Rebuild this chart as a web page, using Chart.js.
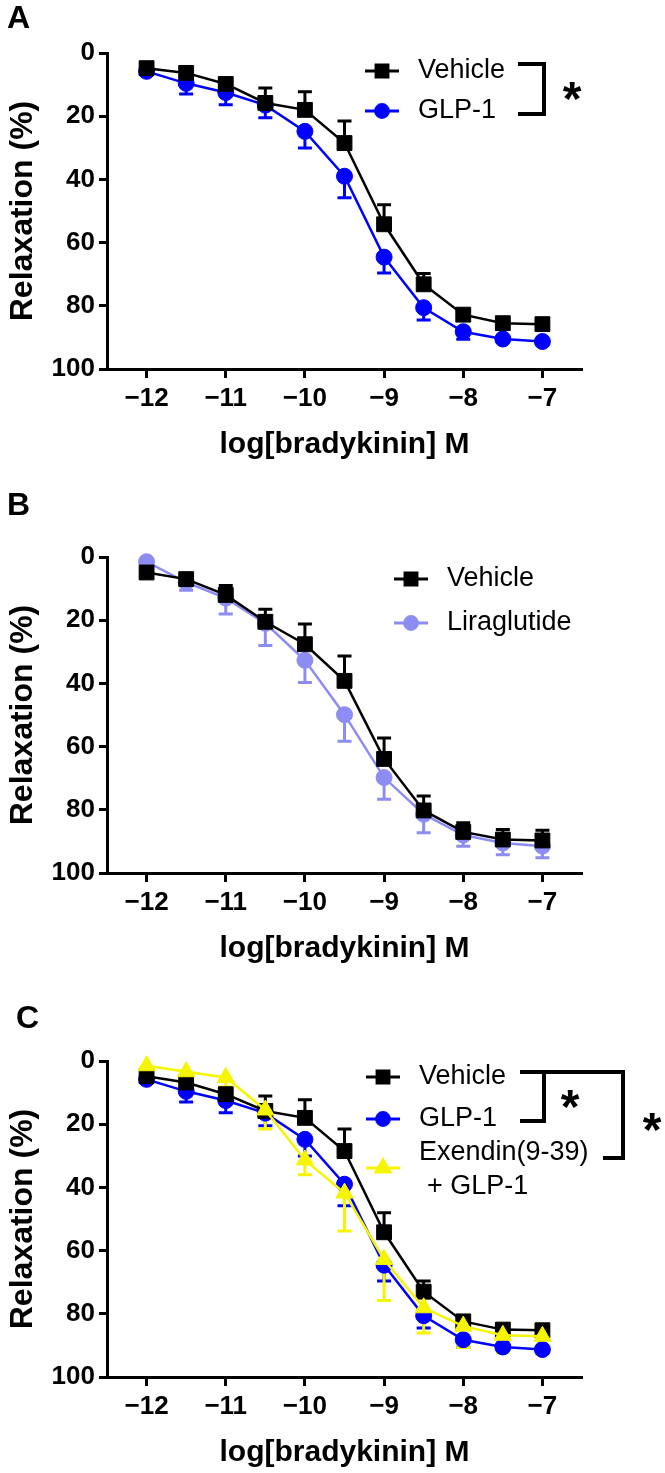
<!DOCTYPE html>
<html>
<head>
<meta charset="utf-8">
<script src="https://cdn.jsdelivr.net/npm/chart.js@4.4.1/dist/chart.umd.min.js"></script>
<style>
  html, body { margin: 0; padding: 0; background: #fff; overflow: hidden; }
  body { position: relative; width: 665px; height: 1473px; }
  canvas { position: absolute; left: 0; }
</style>
</head>
<body>
<canvas id="panelA" width="665" height="483" style="top:0px"></canvas>
<canvas id="panelB" width="665" height="483" style="top:490px"></canvas>
<canvas id="panelC" width="665" height="483" style="top:990px"></canvas>
<script>
// x values: log[bradykinin] M
const LOG_DOSE = [-12, -11.5, -11, -10.5, -10, -9.5, -9, -8.5, -8, -7.5, -7];
const X_TICKS = [-12, -11, -10, -9, -8, -7];
const Y_TICKS = [0, 20, 40, 60, 80, 100];

// Panel A
const A_VEHICLE = [4.8, 6.3, 9.8, 15.8, 18, 28.5, 54.2, 73.2, 82.8, 85.5, 85.8];
const A_VEHICLE_SEM = [0.8, 1.5, 1.5, 4.7, 5.7, 7, 6.2, 3.4, 1.5, 1, 1];
const A_GLP1 = [5.8, 9.6, 12.5, 16.5, 24.8, 39, 64.6, 80.6, 88.2, 90.5, 91.3];
const A_GLP1_SEM = [0.8, 3.4, 3.9, 4, 5.3, 6.8, 5, 3.9, 2.4, 1, 1];

// Panel B
const B_VEHICLE = [4.9, 7, 12, 20.5, 27.6, 39.2, 63.9, 80.2, 87, 89.4, 89.7];
const B_VEHICLE_SEM = [1, 1.5, 3, 4, 6.4, 7.9, 6.6, 4.6, 2.9, 3.2, 3.2];
const B_LIRA = [1.5, 8, 13, 21, 32.7, 49.9, 69.8, 81.4, 88, 90.5, 91.5];
const B_LIRA_SEM = [0.8, 2.5, 5, 7, 7, 8.4, 6.9, 5.9, 3.5, 3.7, 3.7];

// Panel C
const C_VEHICLE = [4.8, 6.8, 10.5, 15.8, 18, 28.5, 54.2, 73, 82.4, 85, 85.2];
const C_VEHICLE_SEM = [0.8, 1.5, 1.5, 4.7, 5.7, 7, 6.2, 3.4, 1.5, 1, 1];
const C_GLP1 = [5.8, 9.6, 12.5, 16.5, 24.8, 39, 64.6, 80.6, 88.2, 90.5, 91.3];
const C_GLP1_SEM = [0.8, 3.4, 3.9, 4, 5.3, 6.8, 5, 3.9, 2.4, 1, 1];
const C_EXENDIN = [1.5, 3.4, 5.2, 15.5, 31.3, 41.8, 62.8, 78.1, 83.9, 86.8, 87.1];
const C_EXENDIN_SEM = [0.5, 1, 3, 6, 4.7, 12, 13, 8, 6.8, 5.5, 5.7];

const FONT = '"Liberation Sans", Arial, Helvetica, sans-serif';
const BLACK = '#000000';
const BLUE = '#0000ff';
const LILAC = '#8c8cf2';
const YELLOW = '#f5f500';

function points(values) {
    return LOG_DOSE.map((x, i) => ({ x: x, y: values[i] }));
}

function series(label, values, sem, dir, color, style, order) {
    return {
        label: label,
        data: points(values),
        errors: sem,
        errDir: dir, // -1 bar toward 0 (up), +1 toward 100 (down)
        borderColor: color,
        backgroundColor: color,
        borderWidth: 2.5,
        pointStyle: style,
        pointRadius: style === 'rect' ? 10.5 : (style === 'triangle' ? 10 : 8),
        pointBorderWidth: 1,
        pointHoverRadius: 0,
        tension: 0,
        clip: false,
        order: order
    };
}

// one-sided SEM bars with a cap, drawn under the markers
const errorBars = {
    id: 'errorBars',
    beforeDatasetsDraw(chart) {
        const { ctx, scales: { x, y } } = chart;
        const metas = chart.getSortedVisibleDatasetMetas().slice().reverse();
        ctx.save();
        metas.forEach(meta => {
            const ds = chart.data.datasets[meta.index];
            ctx.strokeStyle = ds.borderColor;
            ctx.lineWidth = 3;
            ds.data.forEach((p, i) => {
                const err = ds.errors[i];
                if (!err) return;
                const px = x.getPixelForValue(p.x);
                const py = y.getPixelForValue(p.y);
                const pe = y.getPixelForValue(p.y + ds.errDir * err);
                ctx.beginPath();
                ctx.moveTo(px, py);
                ctx.lineTo(px, pe);
                ctx.moveTo(px - 7, pe);
                ctx.lineTo(px + 7, pe);
                ctx.stroke();
            });
        });
        ctx.restore();
    }
};

// panel letter, Prism-style legend and significance brackets
const decor = {
    id: 'decor',
    afterDraw(chart, args, opts) {
        const ctx = chart.ctx;
        const zero = chart.chartArea.top;
        ctx.save();
        ctx.fillStyle = BLACK;
        ctx.textAlign = 'left';
        ctx.textBaseline = 'middle';
        ctx.font = 'bold 32px ' + FONT;
        ctx.fillText(opts.letter, opts.letterX, opts.letterY);

        opts.legend.forEach(item => {
            const ds = chart.data.datasets[item.dataset];
            const my = zero + item.markerY;
            ctx.strokeStyle = ds.borderColor;
            ctx.fillStyle = ds.backgroundColor;
            ctx.lineWidth = 3;
            ctx.beginPath();
            ctx.moveTo(opts.legendX - 17, my);
            ctx.lineTo(opts.legendX + 17, my);
            ctx.stroke();
            Chart.helpers.drawPoint(ctx, {
                pointStyle: ds.pointStyle,
                radius: ds.pointRadius * 0.8,
                rotation: 0,
                borderWidth: 1
            }, opts.legendX, my);
            ctx.fillStyle = BLACK;
            ctx.font = '27px ' + FONT;
            item.lines.forEach(line => {
                ctx.fillText(line.text, opts.legendX + 36 + (line.indent || 0), zero + line.y);
            });
        });

        ctx.strokeStyle = BLACK;
        ctx.lineWidth = 4;
        ctx.lineJoin = 'miter';
        (opts.brackets || []).forEach(b => {
            ctx.beginPath();
            b.forEach((pt, i) => {
                if (i === 0) ctx.moveTo(pt[0], zero + pt[1]);
                else ctx.lineTo(pt[0], zero + pt[1]);
            });
            ctx.stroke();
        });
        ctx.fillStyle = BLACK;
        ctx.font = 'bold 48px ' + FONT;
        ctx.textAlign = 'center';
        ctx.textBaseline = 'alphabetic';
        (opts.stars || []).forEach(s => {
            ctx.fillText('*', s[0], zero + s[1] + 23);
        });
        ctx.restore();
    }
};

function makePanel(id, top, datasets, decorOpts) {
    const H = 483;
    const bottom = top + 316;
    new Chart(document.getElementById(id), {
        type: 'line',
        data: { datasets: datasets },
        plugins: [errorBars, decor],
        options: {
            responsive: false,
            animation: false,
            events: [],
            layout: { padding: { top: top, right: 83, left: 0, bottom: 0 } },
            plugins: {
                legend: { display: false },
                tooltip: { enabled: false },
                decor: decorOpts
            },
            scales: {
                x: {
                    type: 'linear',
                    min: -12.5,
                    max: -6.5,
                    afterBuildTicks: axis => { axis.ticks = X_TICKS.map(v => ({ value: v })); },
                    afterFit: scale => { scale.height = H - bottom; },
                    border: { display: true, color: BLACK, width: 3 },
                    grid: { drawOnChartArea: false, drawTicks: true, tickLength: 9, tickWidth: 3, tickColor: BLACK },
                    ticks: {
                        color: BLACK,
                        padding: 5,
                        maxRotation: 0,
                        font: { family: FONT, size: 26, weight: 'bold' },
                        callback: v => (v < 0 ? '\u2212' : '') + Math.abs(v)
                    },
                    title: {
                        display: true,
                        text: 'log[bradykinin] M',
                        color: BLACK,
                        font: { family: FONT, size: 30, weight: 'bold', lineHeight: 1.2 },
                        padding: { top: 0, bottom: H - (top + 392) - 18 }
                    }
                },
                y: {
                    type: 'linear',
                    reverse: true,
                    min: 0,
                    max: 100,
                    afterBuildTicks: axis => { axis.ticks = Y_TICKS.map(v => ({ value: v })); },
                    afterFit: scale => { scale.width = 107; },
                    border: { display: true, color: BLACK, width: 3 },
                    grid: { drawOnChartArea: false, drawTicks: true, tickLength: 8, tickWidth: 3, tickColor: BLACK },
                    ticks: {
                        color: BLACK,
                        padding: 4,
                        font: { family: FONT, size: 26, weight: 'bold' }
                    },
                    title: {
                        display: true,
                        text: 'Relaxation (%)',
                        color: BLACK,
                        font: { family: FONT, size: 32, weight: 'bold', lineHeight: 1.2 },
                        padding: { top: 4, bottom: 0 }
                    }
                }
            }
        }
    });
}

makePanel('panelA', 53, [
    series('Vehicle', A_VEHICLE, A_VEHICLE_SEM, -1, BLACK, 'rect', 0),
    series('GLP-1', A_GLP1, A_GLP1_SEM, 1, BLUE, 'circle', 1)
], {
    letter: 'A', letterX: 7, letterY: 19,
    legendX: 382,
    legend: [
        { dataset: 0, markerY: 18, lines: [{ text: 'Vehicle', y: 18 }] },
        { dataset: 1, markerY: 58, lines: [{ text: 'GLP-1', y: 58 }] }
    ],
    brackets: [[[518, 11], [544, 11], [544, 61], [518, 61]]],
    stars: [[572, 39]]
});

makePanel('panelB', 67, [
    series('Vehicle', B_VEHICLE, B_VEHICLE_SEM, -1, BLACK, 'rect', 0),
    series('Liraglutide', B_LIRA, B_LIRA_SEM, 1, LILAC, 'circle', 1)
], {
    letter: 'B', letterX: 7, letterY: 16,
    legendX: 411,
    legend: [
        { dataset: 0, markerY: 22, lines: [{ text: 'Vehicle', y: 22 }] },
        { dataset: 1, markerY: 66, lines: [{ text: 'Liraglutide', y: 66 }] }
    ]
});

makePanel('panelC', 71, [
    series('Vehicle', C_VEHICLE, C_VEHICLE_SEM, -1, BLACK, 'rect', 1),
    series('GLP-1', C_GLP1, C_GLP1_SEM, 1, BLUE, 'circle', 2),
    series('Exendin(9-39) + GLP-1', C_EXENDIN, C_EXENDIN_SEM, 1, YELLOW, 'triangle', 0)
], {
    letter: 'C', letterX: 16, letterY: 29,
    legendX: 383,
    legend: [
        { dataset: 0, markerY: 16, lines: [{ text: 'Vehicle', y: 16 }] },
        { dataset: 1, markerY: 58, lines: [{ text: 'GLP-1', y: 58 }] },
        { dataset: 2, markerY: 107, lines: [{ text: 'Exendin(9-39)', y: 92 }, { text: '+ GLP-1', y: 126, indent: 8 }] }
    ],
    brackets: [
        [[520, 11], [544, 11], [544, 60], [520, 60]],
        [[544, 11], [623, 11], [623, 97], [603, 97]]
    ],
    stars: [[570, 39], [652, 62]]
});
</script>
</body>
</html>
